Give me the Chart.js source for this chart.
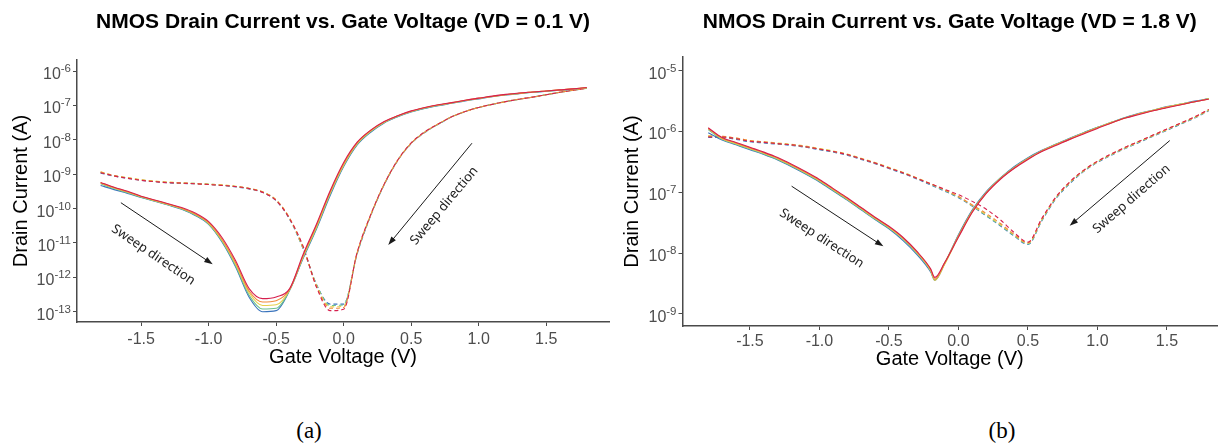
<!DOCTYPE html>
<html>
<head>
<meta charset="utf-8">
<script src="https://cdn.jsdelivr.net/npm/chart.js@4.4.1/dist/chart.umd.min.js"></script>
<style>
  body { margin: 0; background: #fff; width: 1221px; height: 448px; position: relative; overflow: hidden; }
  canvas { position: absolute; top: 0; }
  #chartA { left: 0; }
  #chartB { left: 615px; }
  .caption { position: absolute; top: 418px; line-height: 1; font: 23px "Liberation Serif", "Times New Roman", serif; color: #000; transform: translateX(-50%); }
</style>
</head>
<body>
<canvas id="chartA" width="615" height="400"></canvas>
<canvas id="chartB" width="606" height="400"></canvas>
<div class="caption" style="left:309px">(a)</div>
<div class="caption" style="left:1002px">(b)</div>
<script>
// one colour per repeated measurement run
const runColors = ['#d6204e', '#f08a3c', '#e6cf4a', '#6cc08c', '#3a74bd'];

// (a) VD = 0.1 V, currents as log10(A)
const voltsA = [-1.8, -1.7, -1.6, -1.5, -1.4, -1.3, -1.2, -1.1, -1.0, -0.9, -0.8, -0.7, -0.6, -0.5, -0.4, -0.3, -0.2, -0.1, 0.0,
  0.1, 0.2, 0.3, 0.4, 0.5, 0.6, 0.7, 0.8, 0.9, 1.0, 1.1, 1.2, 1.3, 1.4, 1.5, 1.6, 1.7, 1.8];
const aForwardLog = [
  [-9.24, -9.38, -9.50, -9.64, -9.75, -9.86, -9.97, -10.13, -10.38, -10.85, -11.52, -12.33, -12.62, -12.57, -12.33, -11.33, -10.44, -9.48, -8.66, -8.07, -7.72, -7.47, -7.30, -7.16, -7.06, -6.98, -6.92, -6.85, -6.79, -6.73, -6.68, -6.64, -6.61, -6.58, -6.55, -6.52, -6.48],
  [-9.25, -9.39, -9.51, -9.65, -9.76, -9.87, -9.99, -10.16, -10.41, -10.90, -11.58, -12.40, -12.72, -12.68, -12.35, -11.37, -10.48, -9.52, -8.70, -8.09, -7.73, -7.48, -7.30, -7.17, -7.07, -6.99, -6.92, -6.85, -6.79, -6.74, -6.69, -6.65, -6.61, -6.58, -6.55, -6.52, -6.48],
  [-9.26, -9.40, -9.52, -9.66, -9.77, -9.88, -10.00, -10.17, -10.43, -10.93, -11.62, -12.45, -12.82, -12.80, -12.36, -11.40, -10.52, -9.55, -8.73, -8.11, -7.75, -7.49, -7.31, -7.18, -7.07, -6.99, -6.93, -6.86, -6.80, -6.74, -6.69, -6.65, -6.61, -6.58, -6.55, -6.52, -6.49],
  [-9.28, -9.42, -9.54, -9.67, -9.78, -9.89, -10.01, -10.19, -10.45, -10.96, -11.67, -12.52, -12.92, -12.90, -12.37, -11.42, -10.55, -9.58, -8.75, -8.13, -7.76, -7.50, -7.32, -7.18, -7.08, -7.00, -6.93, -6.86, -6.80, -6.74, -6.69, -6.65, -6.62, -6.59, -6.56, -6.53, -6.49],
  [-9.33, -9.45, -9.56, -9.68, -9.79, -9.90, -10.02, -10.20, -10.46, -10.98, -11.70, -12.58, -13.00, -12.97, -12.38, -11.45, -10.58, -9.62, -8.78, -8.15, -7.78, -7.51, -7.33, -7.19, -7.09, -7.01, -6.94, -6.87, -6.81, -6.75, -6.70, -6.66, -6.62, -6.59, -6.56, -6.53, -6.49]
];
const aReverseLog = [
  [-8.96, -9.05, -9.12, -9.18, -9.22, -9.25, -9.26, -9.28, -9.30, -9.33, -9.36, -9.42, -9.53, -9.77, -10.30, -11.10, -12.30, -12.97, -12.93, -11.27, -10.18, -9.29, -8.59, -8.09, -7.77, -7.54, -7.33, -7.18, -7.06, -6.97, -6.89, -6.82, -6.76, -6.69, -6.62, -6.56, -6.50],
  [-8.94, -9.05, -9.11, -9.17, -9.21, -9.24, -9.26, -9.28, -9.30, -9.32, -9.36, -9.42, -9.52, -9.75, -10.28, -11.13, -12.28, -12.90, -12.88, -11.28, -10.19, -9.29, -8.60, -8.10, -7.78, -7.54, -7.33, -7.18, -7.06, -6.97, -6.89, -6.82, -6.76, -6.69, -6.62, -6.56, -6.50],
  [-8.93, -9.04, -9.10, -9.16, -9.20, -9.23, -9.25, -9.27, -9.29, -9.31, -9.35, -9.41, -9.51, -9.75, -10.29, -11.15, -12.25, -12.86, -12.84, -11.29, -10.19, -9.30, -8.60, -8.10, -7.78, -7.54, -7.33, -7.18, -7.06, -6.97, -6.89, -6.82, -6.76, -6.69, -6.62, -6.56, -6.50],
  [-8.95, -9.05, -9.11, -9.17, -9.21, -9.24, -9.26, -9.27, -9.29, -9.32, -9.36, -9.42, -9.52, -9.76, -10.30, -11.16, -12.22, -12.82, -12.80, -11.30, -10.20, -9.30, -8.60, -8.10, -7.78, -7.55, -7.33, -7.18, -7.06, -6.97, -6.89, -6.82, -6.76, -6.69, -6.62, -6.56, -6.50],
  [-8.97, -9.06, -9.12, -9.18, -9.22, -9.25, -9.27, -9.28, -9.30, -9.33, -9.37, -9.43, -9.53, -9.77, -10.31, -11.17, -12.22, -12.78, -12.78, -11.32, -10.21, -9.31, -8.61, -8.11, -7.79, -7.55, -7.34, -7.18, -7.06, -6.97, -6.89, -6.82, -6.76, -6.69, -6.62, -6.56, -6.50]
];

// (b) VD = 1.8 V
const voltsBFwd = [-1.8, -1.7, -1.6, -1.5, -1.4, -1.3, -1.2, -1.1, -1.0, -0.9, -0.8, -0.7, -0.6, -0.5, -0.4, -0.3, -0.2, -0.17, -0.1, 0.0,
  0.1, 0.2, 0.3, 0.4, 0.5, 0.6, 0.7, 0.8, 0.9, 1.0, 1.1, 1.2, 1.3, 1.4, 1.5, 1.6, 1.7, 1.8];
const bForwardLog = [
  [-5.94, -6.10, -6.18, -6.26, -6.34, -6.43, -6.54, -6.66, -6.79, -6.94, -7.09, -7.25, -7.41, -7.56, -7.74, -7.97, -8.26, -8.40, -8.16, -7.74, -7.33, -7.02, -6.79, -6.61, -6.46, -6.33, -6.23, -6.13, -6.04, -5.95, -5.86, -5.78, -5.72, -5.66, -5.61, -5.56, -5.51, -5.47],
  [-5.95, -6.11, -6.19, -6.27, -6.35, -6.44, -6.55, -6.67, -6.80, -6.95, -7.10, -7.26, -7.42, -7.57, -7.75, -7.98, -8.27, -8.43, -8.17, -7.72, -7.31, -7.01, -6.78, -6.60, -6.45, -6.32, -6.22, -6.13, -6.03, -5.94, -5.86, -5.78, -5.71, -5.66, -5.60, -5.56, -5.51, -5.47],
  [-5.95, -6.12, -6.20, -6.28, -6.36, -6.45, -6.56, -6.68, -6.81, -6.96, -7.11, -7.27, -7.43, -7.58, -7.76, -7.99, -8.29, -8.45, -8.19, -7.73, -7.32, -7.01, -6.78, -6.60, -6.45, -6.32, -6.22, -6.12, -6.03, -5.94, -5.85, -5.78, -5.71, -5.65, -5.60, -5.55, -5.51, -5.46],
  [-5.97, -6.13, -6.21, -6.29, -6.37, -6.46, -6.57, -6.69, -6.82, -6.97, -7.12, -7.28, -7.44, -7.59, -7.77, -8.00, -8.29, -8.44, -8.17, -7.71, -7.30, -7.00, -6.77, -6.59, -6.44, -6.32, -6.21, -6.12, -6.02, -5.93, -5.85, -5.77, -5.71, -5.65, -5.60, -5.55, -5.51, -5.46],
  [-6.02, -6.14, -6.22, -6.30, -6.38, -6.47, -6.58, -6.70, -6.83, -6.98, -7.13, -7.29, -7.45, -7.60, -7.79, -8.02, -8.31, -8.45, -8.18, -7.70, -7.29, -6.99, -6.77, -6.58, -6.43, -6.31, -6.21, -6.11, -6.02, -5.93, -5.85, -5.77, -5.70, -5.65, -5.59, -5.55, -5.50, -5.46]
];
const voltsBRev = [-1.8, -1.7, -1.6, -1.5, -1.4, -1.3, -1.2, -1.1, -1.0, -0.9, -0.8, -0.7, -0.6, -0.5, -0.4, -0.3, -0.2, -0.1, 0.0,
  0.1, 0.2, 0.3, 0.4, 0.5, 0.6, 0.7, 0.8, 0.9, 1.0, 1.1, 1.2, 1.3, 1.4, 1.5, 1.6, 1.7, 1.8];
const bReverseLog = [
  [-6.09, -6.09, -6.12, -6.16, -6.18, -6.20, -6.22, -6.25, -6.29, -6.33, -6.38, -6.45, -6.52, -6.60, -6.68, -6.77, -6.86, -6.95, -7.04, -7.15, -7.28, -7.45, -7.66, -7.82, -7.43, -7.08, -6.83, -6.64, -6.49, -6.37, -6.26, -6.16, -6.06, -5.96, -5.86, -5.76, -5.64],
  [-6.08, -6.08, -6.11, -6.15, -6.17, -6.20, -6.22, -6.25, -6.29, -6.33, -6.38, -6.45, -6.52, -6.60, -6.68, -6.77, -6.86, -6.96, -7.07, -7.21, -7.35, -7.51, -7.69, -7.83, -7.44, -7.09, -6.84, -6.64, -6.49, -6.37, -6.26, -6.16, -6.06, -5.96, -5.86, -5.76, -5.64],
  [-6.07, -6.08, -6.11, -6.15, -6.17, -6.19, -6.21, -6.24, -6.28, -6.32, -6.37, -6.44, -6.51, -6.59, -6.67, -6.76, -6.86, -6.96, -7.07, -7.22, -7.37, -7.53, -7.70, -7.84, -7.45, -7.09, -6.84, -6.65, -6.50, -6.38, -6.27, -6.17, -6.07, -5.97, -5.87, -5.77, -5.65],
  [-6.08, -6.09, -6.12, -6.16, -6.18, -6.20, -6.22, -6.25, -6.29, -6.33, -6.38, -6.45, -6.52, -6.60, -6.68, -6.77, -6.87, -6.97, -7.08, -7.22, -7.38, -7.54, -7.71, -7.85, -7.46, -7.10, -6.85, -6.65, -6.50, -6.38, -6.27, -6.17, -6.07, -5.97, -5.87, -5.77, -5.65],
  [-6.10, -6.10, -6.13, -6.17, -6.19, -6.21, -6.23, -6.26, -6.30, -6.34, -6.39, -6.46, -6.53, -6.61, -6.69, -6.78, -6.88, -6.98, -7.09, -7.23, -7.39, -7.55, -7.72, -7.86, -7.47, -7.11, -6.86, -6.66, -6.51, -6.39, -6.28, -6.18, -6.08, -5.98, -5.88, -5.78, -5.66]
];

// axis ticks (y as powers of ten)
const xTicks = [-1.5, -1.0, -0.5, 0.0, 0.5, 1.0, 1.5];
const yTicksA = [-13, -12, -11, -10, -9, -8, -7, -6];
const yTicksB = [-9, -8, -7, -6, -5];

const FONT = '"Liberation Sans", Arial, sans-serif';
const AXIS = '#4a4a4a';
const TICK = '#4d4d4d';

function points(volts, logs) {
  return volts.map((v, i) => ({ x: v, y: Math.pow(10, logs[i]) }));
}

function buildDatasets(fwdV, fwdLogs, revV, revLogs) {
  const out = [];
  runColors.forEach((c, i) => out.push({
    data: points(fwdV, fwdLogs[i]), borderColor: c, borderWidth: 1.1,
    pointRadius: 0, cubicInterpolationMode: 'monotone', fill: false
  }));
  runColors.forEach((c, i) => out.push({
    data: points(revV, revLogs[i]), borderColor: c, borderWidth: 1.1, borderDash: [4, 3],
    pointRadius: 0, cubicInterpolationMode: 'monotone', fill: false
  }));
  return out;
}

// 10^n labels with a raised exponent
const powerLabels = {
  id: 'powerLabels',
  afterDraw(chart) {
    const { ctx } = chart;
    const y = chart.scales.y;
    ctx.save();
    ctx.fillStyle = TICK;
    ctx.textAlign = 'left';
    ctx.textBaseline = 'alphabetic';
    y.ticks.forEach(t => {
      const py = y.getPixelForValue(t.value);
      const exp = String(Math.round(Math.log10(t.value)));
      ctx.font = '16px ' + FONT;
      const wBase = ctx.measureText('10').width;
      ctx.font = '11.5px ' + FONT;
      const wExp = ctx.measureText(exp).width;
      const right = y.right - 6;
      ctx.fillText(exp, right - wExp, py + 1);
      ctx.font = '16px ' + FONT;
      ctx.fillText('10', right - wExp - wBase, py + 8);
    });
    ctx.restore();
  }
};

// "Sweep direction" arrows, given in data units (V, log10 A)
const sweepNotes = {
  id: 'sweepNotes',
  afterDatasetsDraw(chart, args, opts) {
    const { ctx } = chart;
    const { x, y } = chart.scales;
    const px = p => [x.getPixelForValue(p[0]), y.getPixelForValue(Math.pow(10, p[1]))];
    ctx.save();
    ctx.strokeStyle = '#1a1a1a';
    ctx.fillStyle = '#1a1a1a';
    ctx.lineWidth = 1;
    opts.arrows.forEach(a => {
      const [x0, y0] = px(a.from);
      const [x1, y1] = px(a.to);
      const ang = Math.atan2(y1 - y0, x1 - x0);
      ctx.beginPath();
      ctx.moveTo(x0, y0);
      ctx.lineTo(x1 - 6 * Math.cos(ang), y1 - 6 * Math.sin(ang));
      ctx.stroke();
      ctx.beginPath();
      ctx.moveTo(x1, y1);
      ctx.lineTo(x1 - 9 * Math.cos(ang - 0.33), y1 - 9 * Math.sin(ang - 0.33));
      ctx.lineTo(x1 - 9 * Math.cos(ang + 0.33), y1 - 9 * Math.sin(ang + 0.33));
      ctx.closePath();
      ctx.fill();
    });
    ctx.font = '13px "Noto Sans", "Open Sans", sans-serif';
    ctx.fillStyle = '#222';
    ctx.textAlign = 'center';
    ctx.textBaseline = 'middle';
    opts.labels.forEach(l => {
      const [lx, ly] = px(l.at);
      ctx.save();
      ctx.translate(lx, ly);
      ctx.rotate(l.angle * Math.PI / 180);
      ctx.fillText(l.text, 0, 0);
      ctx.restore();
    });
    ctx.restore();
  }
};

function buildOptions(p) {
  const axisGrid = { drawOnChartArea: false, drawTicks: true, tickLength: 4, color: AXIS, lineWidth: 1 };
  const axisBorder = { display: true, color: AXIS, width: 1.5 };
  return {
    responsive: false,
    animation: false,
    layout: { padding: { left: 0, right: p.padRight, top: 0, bottom: 0 } },
    plugins: {
      legend: { display: false },
      tooltip: { enabled: false },
      title: {
        display: true, text: p.title, fullSize: false, color: '#000',
        font: { family: FONT, size: 21, weight: 'bold' },
        padding: { top: p.titleTop, bottom: p.titleBottom }
      },
      sweepNotes: p.notes
    },
    scales: {
      x: {
        type: 'linear', min: p.xMin, max: p.xMax,
        afterBuildTicks: s => { s.ticks = xTicks.map(v => ({ value: v })); },
        afterFit: s => { s.height = p.xHeight; },
        grid: axisGrid, border: axisBorder,
        ticks: { color: TICK, font: { family: FONT, size: 16 }, padding: p.xTickPad, maxRotation: 0, autoSkip: false,
          callback: v => Number(v).toFixed(1) },
        title: { display: true, text: 'Gate Voltage (V)', color: '#000', font: { family: FONT, size: 20 },
          padding: { top: 0, bottom: p.xTitleBottom } }
      },
      y: {
        type: 'logarithmic', min: Math.pow(10, p.yMinLog), max: Math.pow(10, p.yMaxLog),
        afterBuildTicks: s => { s.ticks = p.yTicks.map(e => ({ value: Math.pow(10, e) })); },
        afterFit: s => { s.width = p.yWidth; },
        grid: axisGrid, border: axisBorder,
        ticks: { display: false },
        title: { display: true, text: 'Drain Current (A)', color: '#000', font: { family: FONT, size: 20 },
          padding: { top: p.yTitlePad, bottom: 0 } }
      }
    }
  };
}

new Chart(document.getElementById('chartA'), {
  type: 'line',
  data: { datasets: buildDatasets(voltsA, aForwardLog, voltsA, aReverseLog) },
  options: buildOptions({
    title: 'NMOS Drain Current vs. Gate Voltage (VD = 0.1 V)',
    padRight: 6, titleTop: 10, titleBottom: 24.8,
    xMin: -1.975, xMax: 1.965, xHeight: 78, xTickPad: 4, xTitleBottom: 31,
    yMinLog: -13.30, yMaxLog: -5.68, yTicks: yTicksA, yWidth: 77, yTitlePad: 9,
    notes: {
      arrows: [{ from: [-1.65, -9.83], to: [-0.97, -11.62] }, { from: [0.95, -8.10], to: [0.33, -11.06] }],
      labels: [{ text: 'Sweep direction', at: [-1.41, -11.35], angle: 34 },
               { text: 'Sweep direction', at: [0.745, -9.92], angle: -50 }]
    }
  }),
  plugins: [powerLabels, sweepNotes]
});

new Chart(document.getElementById('chartB'), {
  type: 'line',
  data: { datasets: buildDatasets(voltsBFwd, bForwardLog, voltsBRev, bReverseLog) },
  options: buildOptions({
    title: 'NMOS Drain Current vs. Gate Voltage (VD = 1.8 V)',
    padRight: 4, titleTop: 10, titleBottom: 21.8,
    xMin: -1.985, xMax: 1.86, xHeight: 74, xTickPad: 2, xTitleBottom: 29,
    yMinLog: -9.20, yMaxLog: -4.775, yTicks: yTicksB, yWidth: 67.5, yTitlePad: 5,
    notes: {
      arrows: [{ from: [-1.20, -6.90], to: [-0.54, -7.89] }, { from: [1.52, -6.15], to: [0.80, -7.55] }],
      labels: [{ text: 'Sweep direction', at: [-0.984, -7.76], angle: 33 },
               { text: 'Sweep direction', at: [1.246, -7.11], angle: -41 }]
    }
  }),
  plugins: [powerLabels, sweepNotes]
});
</script>
</body>
</html>
